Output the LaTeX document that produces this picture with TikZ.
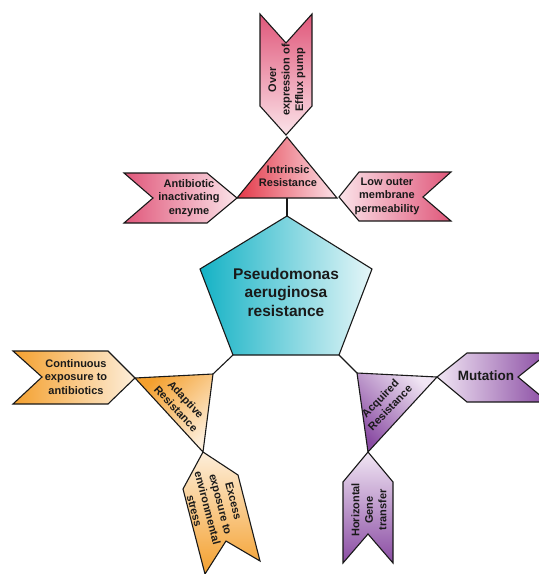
\documentclass[tikz,border=0pt]{standalone}
\usepackage{fontspec}
\setmainfont{Liberation Sans}
\definecolor{teal1}{HTML}{14B2C5}
\definecolor{teal2}{HTML}{E6F6F8}
\definecolor{red1}{HTML}{E33848}
\definecolor{pink1}{HTML}{E0577A}
\definecolor{pink2}{HTML}{FBE3E9}
\definecolor{org1}{HTML}{F4A02E}
\definecolor{org2}{HTML}{FDEEDA}
\definecolor{pur1}{HTML}{8A4CA3}
\definecolor{pur2}{HTML}{F1E6F4}
\definecolor{txt}{HTML}{1A1A1A}
\tikzset{
  shapeline/.style={draw=black!90, line width=1.1pt, line join=miter},
  conn/.style={draw=black!90, line width=1.1pt},
  lbl/.style={text=txt, font=\bfseries\fontsize{11}{13.5}\selectfont, align=center, inner sep=0pt},
  biglbl/.style={text=txt, font=\bfseries\fontsize{15.5}{18.5}\selectfont, align=center, inner sep=0pt},
}
\begin{document}
\begin{tikzpicture}[x=1pt, y=-1pt]
\useasboundingbox (0,0) rectangle (539,574);
% pentagon
\coordinate (P1) at (287,216);
\coordinate (P2) at (372,269);
\coordinate (P3) at (339,355);
\coordinate (P4) at (233,355);
\coordinate (P5) at (200,269);
\path[shapeline, left color=teal1, right color=teal2] (P1) -- (P2) -- (P3) -- (P4) -- (P5) -- cycle;
\node[biglbl] (center) at (286,292) {Pseudomonas\\aeruginosa\\resistance};

% intrinsic triangle
\coordinate (I1) at (287,137);
\coordinate (I2) at (237,198);
\coordinate (I3) at (337,198);
\coordinate (Ib) at (287,198);
\draw[conn] (P1) -- (Ib);
\path[shapeline, left color=red1, right color=pink2] (I1) -- (I3) -- (I2) -- cycle;
\node[lbl] (intr) at (288,176) {Intrinsic\\Resistance};

% over expression chevron
\coordinate (E1) at (260,14);
\coordinate (E2) at (286,43);
\coordinate (E3) at (312,14);
\coordinate (E4) at (312,106);
\coordinate (E5) at (286,135);
\coordinate (E6) at (260,106);
\path[shapeline, top color=pink1, bottom color=pink2] (E1) -- (E2) -- (E3) -- (E4) -- (E5) -- (E6) -- cycle;
\node[lbl, rotate=90] (efflux) at (287,80) {Over\\expression of\\Efflux pump};

% antibiotic chevron
\coordinate (A1) at (124,173);
\coordinate (A2) at (207,173);
\coordinate (A3) at (237,198);
\coordinate (A4) at (207,223);
\coordinate (A5) at (124,223);
\coordinate (A6) at (153,198);
\path[shapeline, left color=pink1, right color=pink2] (A1) -- (A2) -- (A3) -- (A4) -- (A5) -- (A6) -- cycle;
\node[lbl] (anti) at (189,198) {Antibiotic\\inactivating\\enzyme};

% low outer chevron
\coordinate (L1) at (339,197);
\coordinate (L2) at (359,172);
\coordinate (L3) at (451,172);
\coordinate (L4) at (423,197);
\coordinate (L5) at (451,221);
\coordinate (L6) at (359,221);
\path[shapeline, left color=pink2, right color=pink1] (L1) -- (L2) -- (L3) -- (L4) -- (L5) -- (L6) -- cycle;
\node[lbl] (low) at (387,196) {Low outer\\membrane\\permeability};

% adaptive triangle
\coordinate (D1) at (135,378);
\coordinate (D2) at (213,374);
\coordinate (D3) at (203,452);
\draw[conn] (P4) -- (D2);
\path[shapeline, top color=org1, bottom color=org2, shading angle=45] (D1) -- (D2) -- (D3) -- cycle;
\node[lbl, rotate=-47] (adapt) at (181,404) {Adaptive\\Resistance};

% continuous chevron
\coordinate (C1) at (13,351);
\coordinate (C2) at (108,351);
\coordinate (C3) at (135,378);
\coordinate (C4) at (108,404);
\coordinate (C5) at (13,404);
\coordinate (C6) at (42,377);
\path[shapeline, left color=org1, right color=org2] (C1) -- (C2) -- (C3) -- (C4) -- (C5) -- (C6) -- cycle;
\node[lbl] (cont) at (76,377) {Continuous\\exposure to\\antibiotics};

% excess chevron (rotated)
\coordinate (X1) at (203,452);
\coordinate (X2) at (238,475);
\coordinate (X3) at (260,561);
\coordinate (X4) at (226,541);
\coordinate (X5) at (205,574);
\coordinate (X6) at (183,489);
\path[shapeline, top color=org2, bottom color=org1] (X1) -- (X2) -- (X3) -- (X4) -- (X5) -- (X6) -- cycle;
\node[lbl, rotate=-75.5] (excess) at (214,506) {Excess\\exposure to\\environmental\\stress};

% acquired triangle
\coordinate (Q1) at (357,373);
\coordinate (Q2) at (437,377);
\coordinate (Q3) at (368,452);
\draw[conn] (P3) -- (Q1);
\path[shapeline, top color=pur1, bottom color=pur2, shading angle=135] (Q1) -- (Q2) -- (Q3) -- cycle;
\node[lbl, rotate=46] (acq) at (385,403) {Acquired\\Resistance};

% mutation chevron
\coordinate (M1) at (437,377);
\coordinate (M2) at (467,353);
\coordinate (M3) at (548,353);
\coordinate (M4) at (518,377);
\coordinate (M5) at (548,402);
\coordinate (M6) at (467,402);
\path[shapeline, left color=pur2, right color=pur1] (M1) -- (M2) -- (M3) -- (M4) -- (M5) -- (M6) -- cycle;
\node[text=txt, font=\bfseries\fontsize{13.5}{16}\selectfont, inner sep=0pt] (mut) at (486,376) {Mutation};

% horizontal gene transfer chevron
\coordinate (H1) at (368,452);
\coordinate (H2) at (393,482);
\coordinate (H3) at (393,563);
\coordinate (H4) at (368,534);
\coordinate (H5) at (343,563);
\coordinate (H6) at (343,482);
\path[shapeline, top color=pur2, bottom color=pur1] (H1) -- (H2) -- (H3) -- (H4) -- (H5) -- (H6) -- cycle;
\node[lbl, rotate=90] (hgt) at (369,510) {Horizontal\\Gene\\transfer};
\end{tikzpicture}
\end{document}
